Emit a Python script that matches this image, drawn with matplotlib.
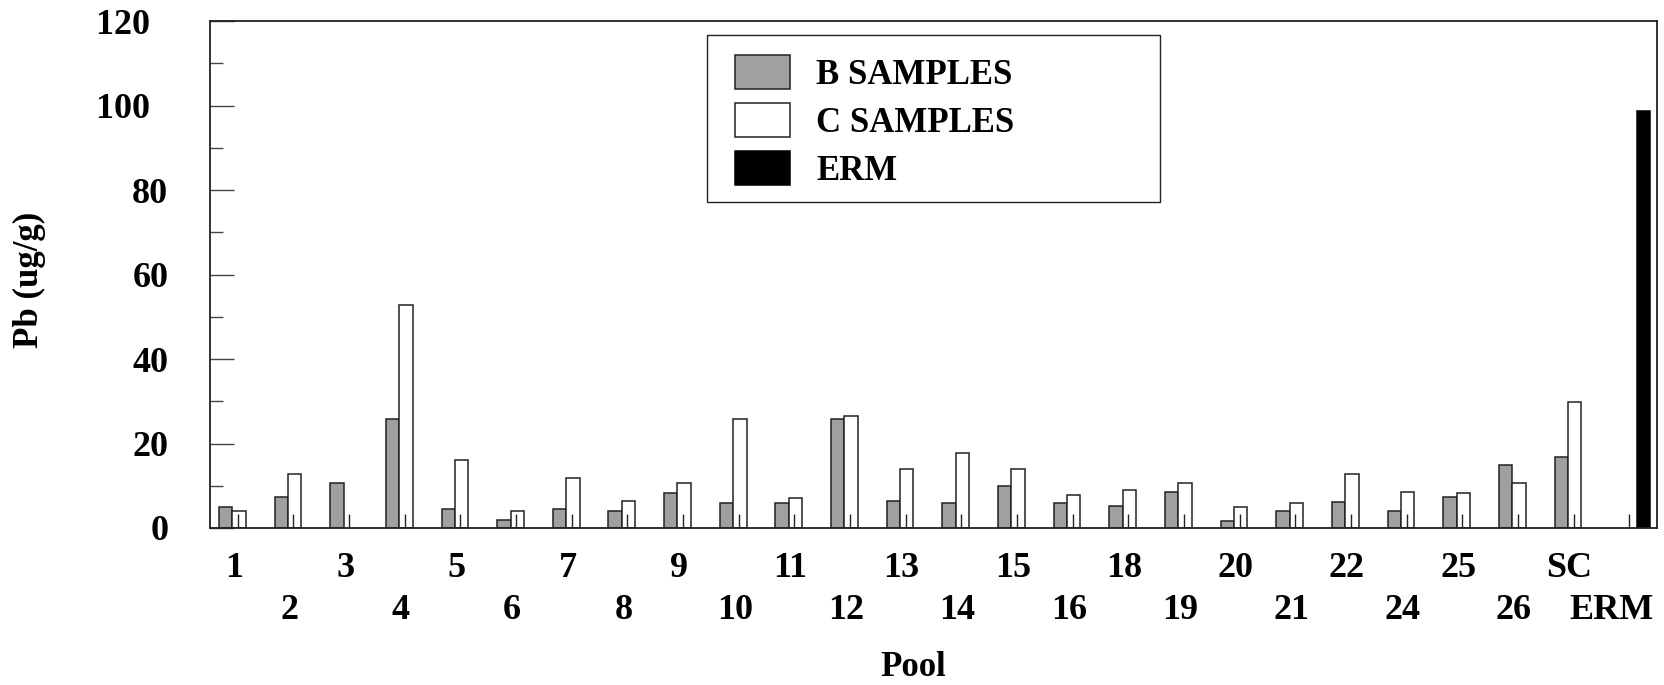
import matplotlib
matplotlib.use("Agg")
import matplotlib.pyplot as plt
import matplotlib.transforms as mtransforms
from matplotlib.patches import Rectangle
import numpy as np
from matplotlib.ticker import MultipleLocator

pools = ["1", "2", "3", "4", "5", "6", "7", "8", "9", "10", "11", "12", "13",
         "14", "15", "16", "18", "19", "20", "21", "22", "24", "25", "26", "SC", "ERM"]
b_samples = [4.9, 7.3, 10.6, 25.8, 4.6, 2.0, 4.6, 4.0, 8.2, 5.8, 5.8, 25.8, 6.5,
             5.8, 9.9, 5.8, 5.3, 8.6, 1.7, 4.1, 6.1, 4.1, 7.3, 14.8, 16.8, np.nan]
c_samples = [4.0, 12.7, np.nan, 52.9, 16.0, 4.1, 11.9, 6.5, 10.6, 25.8, 7.0, 26.6, 13.9,
             17.7, 13.9, 7.8, 9.1, 10.6, 4.9, 5.8, 12.7, 8.6, 8.2, 10.6, 29.9, np.nan]
erm = [np.nan] * 25 + [98.8]

plt.rcParams["font.family"] = ["Liberation Serif", "DejaVu Serif"]
plt.rcParams["font.weight"] = "bold"

fig = plt.figure(figsize=(16.64, 6.85), dpi=100)
ax = fig.add_axes([0.1262, 0.2292, 0.8696, 0.7401])

x = np.arange(len(pools))
w = 0.24
b = np.array(b_samples)
c = np.array(c_samples)
e = np.array(erm)

mb, mc, me = ~np.isnan(b), ~np.isnan(c), ~np.isnan(e)
ax.bar(x[mb] - 0.22, b[mb], w, color="#a0a0a0", edgecolor="#222222", linewidth=1.1, label="B SAMPLES")
ax.bar(x[mc] + 0.02, c[mc], w, color="white", edgecolor="#222222", linewidth=1.1, label="C SAMPLES")
ax.bar(x[me] + 0.26, e[me], w, color="black", edgecolor="black", linewidth=1.1, label="ERM")

ax.set_xlim(-0.5, len(pools) - 0.5)
ax.set_ylim(0, 120)
ax.yaxis.set_minor_locator(MultipleLocator(10))
ylabels = ["0", "20", "40", "60", "80", "100  ", "120  "]
ax.set_yticks(range(0, 121, 20))
ax.set_yticklabels(ylabels, fontsize=26, fontweight="bold")
ax.tick_params(axis="y", which="major", direction="in", length=17, width=1, color="#444444", pad=30)
ax.tick_params(axis="y", which="minor", direction="in", length=9, width=1, color="#444444")

# pool labels on two staggered rows: even positions on top row, odd on bottom
ax.set_xticks(x[::2])
ax.set_xticklabels(pools[::2], fontsize=26, fontweight="bold")
ax.set_xticks(x[1::2], minor=True)
ax.set_xticklabels(pools[1::2], minor=True, fontsize=26, fontweight="bold")
ax.tick_params(axis="x", which="major", direction="in", length=10, width=1, color="#222222", pad=17)
ax.tick_params(axis="x", which="minor", direction="in", length=10, width=1, color="#222222", pad=47.5)
for t in ax.get_xticklabels() + ax.get_xticklabels(minor=True):
    dx = -18 if t.get_text() == "ERM" else -4
    t.set_transform(t.get_transform() + mtransforms.ScaledTranslation(dx / 100, 0, fig.dpi_scale_trans))

for s in ax.spines.values():
    s.set_linewidth(1.3)
    s.set_color("#222222")

ax.set_ylabel("Pb (ug/g)", fontsize=25, fontweight="bold")
ax.yaxis.set_label_coords(-0.113, 0.49)
ax.set_xlabel("Pool", fontsize=25, fontweight="bold")
ax.xaxis.set_label_coords(0.486, -0.242)

# legend box drawn separately so its size matches the original
ax.add_patch(Rectangle((0.3435, 0.643), 0.313, 0.3294, transform=ax.transAxes,
                       facecolor="white", edgecolor="#222222", linewidth=1.0, zorder=5))
leg = ax.legend(loc="upper left", bbox_to_anchor=(0.3625, 0.933), frameon=False,
                borderaxespad=0, borderpad=0, handlelength=1.6, handleheight=1.12,
                handletextpad=0.75, labelspacing=0.33,
                prop={"weight": "bold", "size": 25})
leg.set_zorder(6)

fig.savefig("out.png", dpi=100)
